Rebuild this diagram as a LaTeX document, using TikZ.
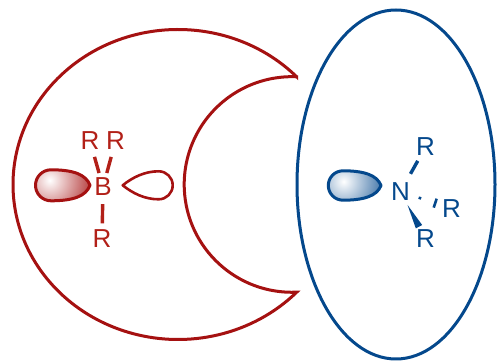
\documentclass[tikz,border=0pt]{standalone}
\usepackage{fontspec}
\setmainfont{Liberation Sans}
\usetikzlibrary{calc}
\definecolor{lewisred}{RGB}{165,17,17}
\definecolor{atomred}{RGB}{178,32,24}
\definecolor{lewisblue}{RGB}{4,72,140}
\begin{document}
\begin{tikzpicture}[x=1pt,y=1pt,
  atom/.style={inner sep=0pt, font=\fontsize{26}{26}\selectfont},
  redatom/.style={atom, text=atomred},
  blueatom/.style={atom, text=lewisblue},
  outline/.style={line width=3pt},
  bond/.style={line width=3.4pt},
  hash/.style={line width=2.6pt},
  lobe/.style={line width=3pt, line join=round}]
\useasboundingbox (0,0) rectangle (498,361);

% Lewis acid pocket: crescent
\draw[outline, lewisred] (178,176.5) ++(44:165 and 155)
  arc[start angle=44, end angle=316, x radius=165, y radius=155]
  arc[start angle=272.5, end angle=87.5, radius=107.8] -- cycle;

% Lewis base: ellipse
\draw[outline, lewisblue] (396,176.5) ellipse[x radius=99, y radius=174.5];

% borane
\node[redatom] (B)  at (103,174) {B};
\node[redatom] (R1) at (90,220) {R};
\node[redatom] (R2) at (115.5,220) {R};
\node[redatom] (R3) at (102,122) {R};
\draw[bond, atomred, shorten <=5pt, shorten >=7pt] (B) -- (R1);
\draw[bond, atomred, shorten <=5pt, shorten >=7pt] (B) -- (R2);
\draw[bond, atomred, shorten <=8pt, shorten >=6.5pt] (B) -- (R3);

% filled orbital lobe (acid side)
\begin{scope}[shift={(51,175.7)}]
\path[lobe, draw=lewisred, path picture={
    \shade[inner color=white, outer color=lewisred]
      ([shift={(-13,5)}]path picture bounding box.center) circle (52);}]
  (39,0) .. controls (35,11) and (22,15.5) .. (0,15.5)
  arc[start angle=90, end angle=270, radius=15.5]
  .. controls (22,-15.5) and (35,-11) .. cycle;
\end{scope}

% empty orbital lobe
\begin{scope}[shift={(158.7,175.7)}, xscale=-1]
\draw[lobe, lewisred, line width=2.6pt]
  (36,0) .. controls (26,8) and (14,14) .. (0,14)
  arc[start angle=90, end angle=270, radius=14]
  .. controls (14,-14) and (26,-8) .. cycle;
\end{scope}

% amine
\node[blueatom] (N)   at (400.5,169.3) {N};
\node[blueatom] (Rn1) at (425.5,214) {R};
\node[blueatom] (Rn2) at (451.5,152.5) {R};
\node[blueatom] (Rn3) at (425.5,122) {R};
\draw[bond, lewisblue, shorten <=10pt, shorten >=5.4pt] (N) -- (Rn1);

% hashed wedge
\coordinate (h1) at ($(N)!0.38!(Rn2)$);
\coordinate (h2) at ($(N)!0.68!(Rn2)$);
\draw[hash, lewisblue] ($(h1)!1.3pt!90:(Rn2)$) -- ($(h1)!1.3pt!-90:(Rn2)$);
\draw[hash, lewisblue] ($(h2)!4.7pt!90:(Rn2)$) -- ($(h2)!4.7pt!-90:(Rn2)$);

% solid wedge
\coordinate (w0) at ($(N)!0.28!(Rn3)$);
\coordinate (w1) at ($(N)!0.74!(Rn3)$);
\fill[lewisblue] (w0) -- ($(w1)!3.6pt!90:(Rn3)$) -- ($(w1)!3.6pt!-90:(Rn3)$) -- cycle;

% filled orbital lobe (base side)
\begin{scope}[shift={(343,175.5)}]
\path[lobe, draw=lewisblue, path picture={
    \shade[inner color=white, outer color=lewisblue]
      ([shift={(-11,4)}]path picture bounding box.center) circle (52);}]
  (38,0) .. controls (34,10.5) and (21,14.7) .. (0,14.7)
  arc[start angle=90, end angle=270, radius=14.7]
  .. controls (21,-14.7) and (34,-10.5) .. cycle;
\end{scope}
\end{tikzpicture}
\end{document}
